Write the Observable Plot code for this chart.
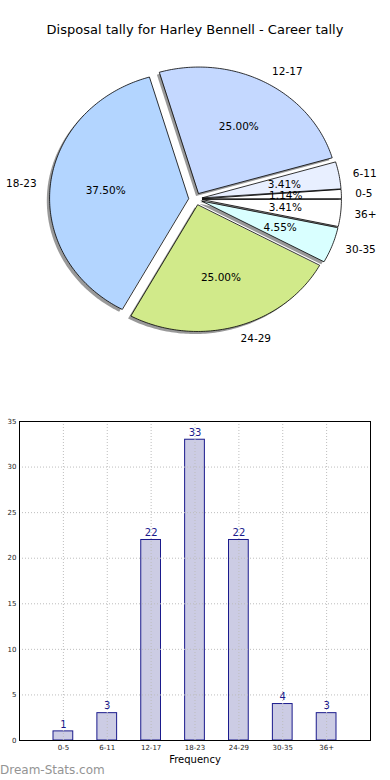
<!DOCTYPE html>
<html>
<head>
<meta charset="utf-8">
<script src="https://cdn.jsdelivr.net/npm/d3@7"></script>
<script src="https://cdn.jsdelivr.net/npm/@observablehq/plot@0.6"></script>
<style>
  html, body { margin: 0; padding: 0; background: #fff; }
  body { width: 390px; height: 780px; position: relative; overflow: hidden; font-family: "DejaVu Sans", sans-serif; }
  #title { position: absolute; left: 0; top: 22px; width: 390px; text-align: center; font-size: 13px; line-height: 16px; color: #000; }
  #pie { position: absolute; left: 0; top: 0; }
  #bar { position: absolute; left: 0; top: 400px; }
  #mark { position: absolute; left: 0; top: 762px; font-size: 12px; line-height: 16px; color: #949494; }
</style>
</head>
<body>
<div id="pie"></div>
<div id="title">Disposal tally for Harley Bennell - Career tally</div>
<div id="bar"></div>
<div id="mark">Dream-Stats.com</div>
<script>
const categories = ["0-5", "6-11", "12-17", "18-23", "24-29", "30-35", "36+"];
const counts = [1, 3, 22, 33, 22, 4, 3];
const pieColors = ["#ffffff", "#e8efff", "#c4d8ff", "#b3d5ff", "#d1ea8a", "#d9ffff", "#ffffff"];
const yTicks = [0, 5, 10, 15, 20, 25, 30, 35];
const gridY = [5, 10, 15, 20, 25, 30];
const xLabel = "Frequency";
const yLabel = "Occurrences";

const explode = 0.05;
const shadowOff = 0.02;

// Build wedges
const total = d3.sum(counts);
let acc = 0;
const wedges = categories.map((c, i) => {
  const span = counts[i] / total * 2 * Math.PI;
  const a0 = acc, a1 = acc + span;
  acc = a1;
  const mid = (a0 + a1) / 2;
  return {
    key: c, a0, a1, mid, color: pieColors[i],
    ox: explode * Math.cos(mid), oy: explode * Math.sin(mid),
    pct: (counts[i] / total * 100).toFixed(2) + "%"
  };
});
const pts = [];
for (const w of wedges) {
  pts.push({key: w.key, x: w.ox, y: w.oy, color: w.color});
  const n = Math.max(2, Math.ceil((w.a1 - w.a0) / (Math.PI / 180)));
  for (let k = 0; k <= n; k++) {
    const a = w.a0 + (w.a1 - w.a0) * k / n;
    pts.push({key: w.key, x: w.ox + Math.cos(a), y: w.oy + Math.sin(a), color: w.color});
  }
}

const pie = Plot.plot({
  width: 390, height: 400, margin: 0,
  style: {fontFamily: "DejaVu Sans", background: "transparent"},
  x: {domain: [-1, 1], range: [56, 334], axis: null},
  y: {domain: [-1, 1], range: [324.9, 72.1], axis: null},
  color: {type: "identity"},
  marks: [
    Plot.line(pts, {x: d => d.x - shadowOff, y: d => d.y - shadowOff, z: "key", fill: "#333", fillOpacity: 0.5, stroke: "none", curve: "linear-closed"}),
    Plot.line(pts, {x: "x", y: "y", z: "key", fill: "color", stroke: "#000", strokeWidth: 0.8, curve: "linear-closed"}),
    Plot.text(wedges.filter(w => Math.cos(w.mid) >= 0), {
      x: w => w.ox + 1.1 * Math.cos(w.mid), y: w => w.oy + 1.1 * Math.sin(w.mid),
      text: "key", textAnchor: "start", fontSize: 10.5, fill: "#000"
    }),
    Plot.text(wedges.filter(w => Math.cos(w.mid) < 0), {
      x: w => w.ox + 1.1 * Math.cos(w.mid), y: w => w.oy + 1.1 * Math.sin(w.mid),
      text: "key", textAnchor: "end", fontSize: 10.5, fill: "#000"
    }),
    Plot.text(wedges, {
      x: w => w.ox + 0.6 * Math.cos(w.mid), y: w => w.oy + 0.6 * Math.sin(w.mid),
      text: "pct", fontSize: 10.5, fill: "#000"
    })
  ]
});
document.getElementById("pie").appendChild(pie);

const barData = categories.map((c, i) => ({cat: c, n: counts[i]}));
const bar = Plot.plot({
  width: 390, height: 380,
  marginTop: 21, marginBottom: 40, marginLeft: 19, marginRight: 20,
  style: {fontFamily: "DejaVu Sans", fontSize: "7px", background: "transparent", color: "#222"},
  x: {type: "band", domain: categories, paddingInner: 0.55, paddingOuter: 0.775, round: false, tickSize: 0, tickPadding: 5, label: null},
  y: {domain: [0, 35], ticks: yTicks, tickSize: 0, tickPadding: 3, label: null},
  marks: [
    Plot.barY(barData, {x: "cat", y: "n", fill: "#ccccE4", stroke: "#1a1a8c", strokeWidth: 1}),
    Plot.ruleX(categories, {x: d => d, stroke: "#bdbdbd", strokeDasharray: "1,2", strokeWidth: 1}),
    Plot.ruleY(gridY, {y: d => d, stroke: "#bdbdbd", strokeDasharray: "1,2", strokeWidth: 1}),
    Plot.text(barData, {x: "cat", y: "n", text: d => String(d.n), dy: -7, fontSize: 10, fill: "#1a1a8c"}),
    Plot.frame({stroke: "#000", strokeWidth: 1}),
    Plot.text([xLabel], {frameAnchor: "bottom", dy: 22, fontSize: 10, fill: "#000"}),
    Plot.text([yLabel], {frameAnchor: "left", dx: -24, rotate: -90, fontSize: 10, fill: "#000"})
  ]
});
document.getElementById("bar").appendChild(bar);
</script>
</body>
</html>
